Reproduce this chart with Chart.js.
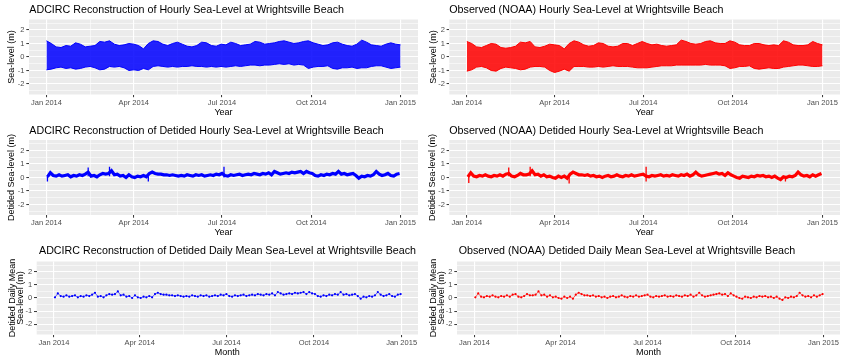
<!DOCTYPE html>
<html lang="en">
<head>
    <meta charset="UTF-8">
    <title>Wrightsville Beach sea-level, 2014</title>
    <script src="https://cdn.jsdelivr.net/npm/chart.js"></script>
    <style>
        body, html {
            margin: 0;
            padding: 0;
            background-color: #ffffff;
        }
        .wrap {
            position: relative;
            width: 844px;
            height: 357px;
            overflow: hidden;
        }
        .panel {
            position: absolute;
        }
    </style>
</head>
<body>
    <div class="wrap" id="wrap"></div>

    <script>
        // x axis: days since 1 Jan 2014
        const monthTicks = [0, 90, 181, 273, 365];
        const monthLabels = ['Jan 2014', 'Apr 2014', 'Jul 2014', 'Oct 2014', 'Jan 2015'];
        const monthMinor = [45, 135.5, 227, 319];
        const levelTicks = [-2, -1, 0, 1, 2];
        const levelMinor = [-2.5, -1.5, -0.5, 0.5, 1.5, 2.5];

        // Envelope of the hourly series, read every 5 days (day 0 .. 365)
        const rawDays = Array.from({ length: 74 }, (_, i) => i * 5);
        const adcRawHi = [1.2, 1.0, 0.75, 0.7, 0.85, 0.8, 1.05, 0.95, 0.75, 0.8,
            0.85, 1.15, 1.1, 1.2, 0.95, 0.85, 0.9, 1.0, 0.95, 0.85,
            0.6, 1.0, 1.2, 1.15, 0.95, 0.85, 1.0, 1.1, 0.95, 0.8,
            0.75, 0.85, 1.1, 1.05, 0.85, 0.8, 0.95, 0.9, 1.1, 1.0,
            0.85, 0.9, 0.95, 1.15, 1.1, 0.95, 1.0, 1.05, 1.15, 1.2,
            1.1, 1.0, 1.05, 1.15, 1.2, 1.05, 0.95, 0.85, 0.9, 1.05,
            1.1, 0.95, 0.85, 0.8, 0.95, 1.25, 1.1, 0.9, 0.85, 0.8,
            0.95, 1.05, 0.95, 0.9];
        const adcRawLo = [-0.95, -0.9, -0.8, -0.75, -0.85, -0.8, -0.9, -0.85, -0.75, -0.7,
            -0.8, -0.95, -0.9, -0.7, -0.75, -0.7, -0.8, -1.0, -0.95, -1.0,
            -0.85, -0.95, -0.7, -0.65, -0.7, -0.75, -0.7, -0.75, -0.7, -0.7,
            -0.65, -0.7, -0.7, -0.75, -0.7, -0.75, -0.7, -0.75, -0.7, -0.65,
            -0.7, -0.65, -0.6, -0.6, -0.65, -0.6, -0.6, -0.55, -0.5, -0.55,
            -0.5, -0.6, -0.55, -0.6, -0.85, -0.75, -0.7, -0.7, -0.65, -0.85,
            -0.9, -0.8, -0.8, -0.75, -0.85, -0.8, -0.8, -0.7, -0.65, -0.65,
            -0.75, -0.85, -0.8, -0.75];
        const noaaRawHi = [1.15, 1.0, 0.75, 0.7, 0.85, 1.0, 0.95, 0.7, 0.65, 0.7,
            0.8, 1.1, 1.05, 1.15, 0.75, 0.7, 0.8, 0.95, 0.9, 0.85,
            0.6, 1.0, 1.2, 1.1, 0.9, 0.8, 0.85, 1.05, 1.0, 0.8,
            0.75, 0.8, 1.0, 1.0, 0.85, 1.0, 1.15, 1.0, 0.9, 0.95,
            0.85, 0.8, 0.85, 0.9, 1.25, 1.15, 1.0, 0.95, 1.0, 1.15,
            1.2, 1.05, 1.0, 1.0, 1.2, 1.1, 0.9, 0.85, 0.85, 1.0,
            1.0, 0.9, 0.85, 0.9, 0.85, 1.2, 1.1, 0.9, 0.85, 0.85,
            0.9, 1.15, 1.0, 0.9];
        const noaaRawLo = [-1.05, -0.95, -0.75, -0.7, -0.8, -1.0, -1.05, -0.85, -0.75, -0.8,
            -0.85, -0.95, -0.9, -0.75, -0.7, -0.7, -0.75, -1.0, -1.15, -1.05,
            -0.9, -1.05, -0.7, -0.7, -0.7, -0.75, -0.75, -0.7, -0.75, -0.7,
            -0.65, -0.7, -0.7, -0.7, -0.75, -0.8, -0.8, -0.8, -0.75, -0.7,
            -0.65, -0.65, -0.65, -0.6, -0.6, -0.6, -0.6, -0.6, -0.6, -0.55,
            -0.6, -0.6, -0.6, -0.65, -0.85, -0.8, -0.7, -0.7, -0.65, -0.85,
            -0.9, -0.85, -0.8, -0.85, -0.85, -0.75, -0.7, -0.65, -0.6, -0.6,
            -0.65, -0.7, -0.7, -0.65];

        // Detided daily mean, read every 3 days (day 1 .. 364)
        const dailyDays = Array.from({ length: 122 }, (_, i) => 1 + i * 3);
        const adcDaily = [0.05, 0.35, 0.15, 0.1, 0.2, 0.1, 0.15, 0.2, 0.05, 0.15, 0.1,
            0.2, 0.15, 0.25, 0.4, 0.1, 0.15, 0.05, 0.2, 0.3,
            0.25, 0.3, 0.5, 0.2, 0.25, 0.1, 0.15, 0.0, 0.2, 0.05,
            0.0, 0.1, 0.05, 0.15, 0.05, 0.3, 0.4, 0.3, 0.25, 0.25,
            0.2, 0.2, 0.15, 0.2, 0.15, 0.1, 0.15, 0.1, 0.2, 0.15,
            0.1, 0.2, 0.15, 0.2, 0.1, 0.15, 0.2, 0.15, 0.25, 0.2,
            0.3, 0.15, 0.1, 0.2, 0.15, 0.2, 0.25, 0.15, 0.2, 0.25,
            0.2, 0.3, 0.25, 0.2, 0.3, 0.25, 0.35, 0.2, 0.45, 0.35,
            0.25, 0.3, 0.35, 0.3, 0.4, 0.35, 0.4, 0.45, 0.3, 0.45,
            0.35, 0.3, 0.15, 0.1, 0.2, 0.15, 0.25, 0.2, 0.3, 0.25,
            0.45, 0.25, 0.3, 0.2, 0.25, 0.3, 0.15, -0.05, 0.1, 0.05,
            0.15, 0.1, 0.2, 0.45, 0.25, 0.15, 0.2, 0.3, 0.15, 0.1, 0.25, 0.3];
        const noaaDaily = [0.05, 0.35, 0.1, 0.05, 0.15, 0.1, 0.2, 0.1, 0.05, 0.15, 0.1,
            0.2, 0.1, 0.25, 0.3, 0.1, 0.05, 0.15, 0.3, 0.2,
            0.2, 0.25, 0.5, 0.2, 0.25, 0.1, 0.2, 0.05, 0.1, 0.0,
            -0.05, 0.1, 0.0, 0.1, -0.05, 0.25, 0.4, 0.3, 0.2, 0.2,
            0.15, 0.2, 0.1, 0.15, 0.05, 0.1, 0.0, 0.1, 0.15, 0.05,
            0.1, 0.2, 0.1, 0.05, 0.15, 0.1, 0.2, 0.1, 0.15, 0.2,
            0.25, 0.1, 0.05, 0.15, 0.1, 0.15, 0.2, 0.1, 0.15, 0.1,
            0.2, 0.15, 0.1, 0.2, 0.15, 0.25, 0.1, 0.2, 0.4, 0.2,
            0.1, 0.15, 0.2, 0.25, 0.3, 0.35, 0.25, 0.3, 0.15, 0.35,
            0.2, 0.1, 0.0, -0.05, 0.1, 0.05, 0.0, 0.1, 0.05, 0.15,
            0.1, 0.15, 0.05, 0.1, 0.0, 0.1, -0.05, -0.15, 0.05, 0.0,
            0.1, 0.05, 0.15, 0.4, 0.2, 0.1, 0.15, 0.05, 0.2, 0.1, 0.2, 0.3];

        // Isolated spikes of the detided hourly series
        const adcSpikeDays = [1, 43, 65, 105, 183];
        const adcSpikeLo = [-0.3, 0.1, 0.1, -0.3, 0.0];
        const adcSpikeHi = [0.1, 0.75, 0.8, 0.1, 0.8];
        const noaaSpikeDays = [2, 43, 65, 105, 184, 327];
        const noaaSpikeLo = [-0.4, 0.1, 0.1, -0.45, -0.3, -0.3];
        const noaaSpikeHi = [0.1, 0.75, 0.8, 0.1, 0.8, 0.0];

        const BLUE = '#0000FF';
        const RED = '#FF0000';
        const FONT = '"Liberation Sans", Arial, sans-serif';

        function pts(xs, ys) {
            return xs.map((x, i) => ({ x: x, y: ys[i] }));
        }

        // vertical segments, broken apart by NaN points
        function segs(days, lo, hi) {
            const out = [];
            days.forEach((d, i) => {
                out.push({ x: d, y: lo[i] }, { x: d, y: hi[i] }, { x: d, y: NaN });
            });
            return out;
        }

        function bandSets(lo, hi, color, fillColor) {
            return [
                { data: pts(rawDays, lo), borderColor: color, borderWidth: 1, pointRadius: 0, fill: false },
                { data: pts(rawDays, hi), borderColor: color, borderWidth: 1, pointRadius: 0, fill: '-1', backgroundColor: fillColor }
            ];
        }

        function detidedSets(vals, sDays, sLo, sHi, color) {
            return [
                { data: pts(dailyDays, vals), borderColor: color, borderWidth: 3.2, pointRadius: 0, fill: false },
                { data: segs(sDays, sLo, sHi), borderColor: color, borderWidth: 1.3, pointRadius: 0, fill: false, spanGaps: false }
            ];
        }

        function dailySets(vals, color) {
            return [
                { data: pts(dailyDays, vals), showLine: true, borderColor: color, borderWidth: 0.6,
                  pointRadius: 1.1, pointBorderWidth: 0, pointBackgroundColor: color, fill: false }
            ];
        }

        // Plot background + left aligned title, ggplot style
        const ggPlugin = {
            id: 'gg',
            beforeDraw(chart) {
                const { ctx, chartArea } = chart;
                ctx.save();
                ctx.fillStyle = '#EBEBEB';
                ctx.fillRect(chartArea.left, chartArea.top, chartArea.width, chartArea.height);
                ctx.restore();
            },
            afterDraw(chart, args, opts) {
                const ctx = chart.ctx;
                ctx.save();
                ctx.font = '10.7px ' + FONT;
                ctx.fillStyle = '#000000';
                ctx.textBaseline = 'alphabetic';
                ctx.fillText(opts.text, opts.x, opts.y);
                ctx.restore();
            }
        };

        const isMinor = c => c.tick && c.tick.minor;

        function gridOpts() {
            return {
                color: '#FFFFFF',
                lineWidth: c => isMinor(c) ? 0.55 : 1.1,
                tickColor: c => isMinor(c) ? 'rgba(0,0,0,0)' : '#333333',
                tickWidth: 1,
                tickLength: 2.7
            };
        }

        function makePanel(p) {
            const canvas = document.createElement('canvas');
            canvas.width = p.w;
            canvas.height = p.h;
            canvas.className = 'panel';
            canvas.style.left = p.left + 'px';
            canvas.style.top = p.top + 'px';
            document.getElementById('wrap').appendChild(canvas);
            const [aL, aT, aR, aB] = p.area;

            new Chart(canvas.getContext('2d'), {
                type: 'line',
                data: { datasets: p.datasets },
                options: {
                    responsive: false,
                    animation: false,
                    layout: { padding: { left: 0, top: aT, right: p.w - aR, bottom: 0 } },
                    plugins: {
                        legend: { display: false },
                        tooltip: { enabled: false },
                        gg: { text: p.title, x: p.titleX, y: p.titleY }
                    },
                    scales: {
                        x: {
                            type: 'linear',
                            min: p.xMin,
                            max: p.xMax,
                            offset: false,
                            afterFit: s => { s.height = p.h - aB; },
                            afterBuildTicks: s => {
                                s.ticks = monthTicks.map(v => ({ value: v }))
                                    .concat(monthMinor.map(v => ({ value: v, minor: true })));
                            },
                            grid: gridOpts(),
                            border: { display: false },
                            ticks: {
                                autoSkip: false,
                                maxRotation: 0,
                                padding: 1,
                                color: '#4D4D4D',
                                font: { family: FONT, size: 7.5 },
                                callback: v => {
                                    const i = monthTicks.indexOf(v);
                                    return i >= 0 ? monthLabels[i] : '';
                                }
                            },
                            title: {
                                display: true,
                                text: p.xTitle,
                                color: '#000000',
                                font: { family: FONT, size: 9, lineHeight: 1.1 },
                                padding: { top: 0, bottom: p.xTitlePad }
                            }
                        },
                        y: {
                            type: 'linear',
                            min: -2.78,
                            max: 2.78,
                            afterFit: s => { s.width = aL; },
                            afterBuildTicks: s => {
                                s.ticks = levelTicks.map(v => ({ value: v }))
                                    .concat(levelMinor.map(v => ({ value: v, minor: true })));
                            },
                            grid: gridOpts(),
                            border: { display: false },
                            ticks: {
                                autoSkip: false,
                                padding: 1.8,
                                color: '#4D4D4D',
                                font: { family: FONT, size: 7.5 },
                                callback: v => levelTicks.indexOf(v) >= 0 ? String(v) : ''
                            },
                            title: {
                                display: true,
                                text: p.yTitle,
                                color: '#000000',
                                font: { family: FONT, size: 9, lineHeight: p.yLine },
                                padding: { top: p.yTitlePad, bottom: 0 }
                            }
                        }
                    }
                },
                plugins: [ggPlugin]
            });
        }

        const panels = [
            {
                left: 0, top: 0, w: 428, h: 118, area: [29, 19.5, 418, 94.5],
                xMin: -18, xMax: 383, title: 'ADCIRC Reconstruction of Hourly Sea-Level at Wrightsville Beach',
                titleX: 29.3, titleY: 13.3, xTitle: 'Year', xTitlePad: 1, yTitle: 'Sea-level (m)', yLine: 1.1, yTitlePad: 6.8,
                datasets: bandSets(adcRawLo, adcRawHi, BLUE, 'rgba(0,0,255,0.86)')
            },
            {
                left: 422, top: 0, w: 422, h: 118, area: [27.3, 19.5, 418, 94.5],
                xMin: -18, xMax: 383, title: 'Observed (NOAA) Hourly Sea-Level at Wrightsville Beach',
                titleX: 27.3, titleY: 13.3, xTitle: 'Year', xTitlePad: 1, yTitle: 'Sea-level (m)', yLine: 1.1, yTitlePad: 6.8,
                datasets: bandSets(noaaRawLo, noaaRawHi, RED, 'rgba(255,0,0,0.86)')
            },
            {
                left: 0, top: 118, w: 428, h: 121, area: [29, 22, 418, 97],
                xMin: -18, xMax: 383, title: 'ADCIRC Reconstruction of Detided Hourly Sea-Level at Wrightsville Beach',
                titleX: 29.3, titleY: 15.7, xTitle: 'Year', xTitlePad: 1.7, yTitle: 'Detided Sea-level (m)', yLine: 1.1, yTitlePad: 6.1,
                datasets: detidedSets(adcDaily, adcSpikeDays, adcSpikeLo, adcSpikeHi, BLUE)
            },
            {
                left: 422, top: 118, w: 422, h: 121, area: [27.3, 22, 418, 97],
                xMin: -18, xMax: 383, title: 'Observed (NOAA) Detided Hourly Sea-Level at Wrightsville Beach',
                titleX: 27.3, titleY: 15.7, xTitle: 'Year', xTitlePad: 1.7, yTitle: 'Detided Sea-level (m)', yLine: 1.1, yTitlePad: 5.1,
                datasets: detidedSets(noaaDaily, noaaSpikeDays, noaaSpikeLo, noaaSpikeHi, RED)
            },
            {
                left: 0, top: 239, w: 428, h: 118, area: [36.7, 22.5, 418, 95.5],
                xMin: -18.2, xMax: 382.2, title: 'ADCIRC Reconstruction of Detided Daily Mean Sea-Level at Wrightsville Beach',
                titleX: 39, titleY: 15, xTitle: 'Month', xTitlePad: 0, yTitle: ['Detided Daily Mean', 'Sea-level (m)'], yLine: 0.88, yTitlePad: 8.3,
                datasets: dailySets(adcDaily, BLUE)
            },
            {
                left: 422, top: 239, w: 422, h: 118, area: [35, 22.5, 418, 95.5],
                xMin: -18.2, xMax: 382.2, title: 'Observed (NOAA) Detided Daily Mean Sea-Level at Wrightsville Beach',
                titleX: 36.7, titleY: 15, xTitle: 'Month', xTitlePad: 0, yTitle: ['Detided Daily Mean', 'Sea-level (m)'], yLine: 0.88, yTitlePad: 7.7,
                datasets: dailySets(noaaDaily, RED)
            }
        ];

        panels.forEach(makePanel);
    </script>
</body>
</html>
